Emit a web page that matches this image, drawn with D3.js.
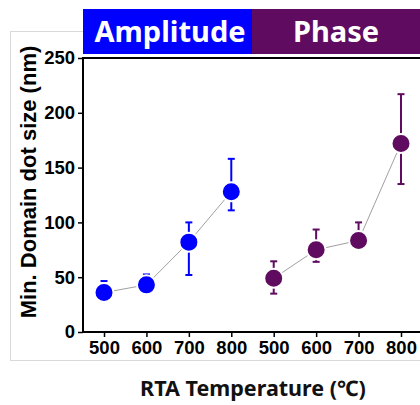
<!DOCTYPE html>
<html><head><meta charset="utf-8">
<script src="https://cdn.jsdelivr.net/npm/d3@7"></script>
<style>body{margin:0;background:#fff}svg{display:block}</style>
</head><body>
<script>
const temps = ["500","600","700","800"];
const groups = ["Amplitude","Phase"];
const ampVal = [36, 43, 82, 128];
const ampHi  = [46.5, 52.5, 100, 158];
const ampLo  = [30, 38, 52, 111];
const phVal  = [49, 75, 83.5, 172];
const phHi   = [64.5, 93.5, 100, 217];
const phLo   = [35, 64, 78, 135];
const yTicks = [0, 50, 100, 150, 200, 250];
const colors = ["#0000FF", "#5E0B60"];

const W = 420, H = 405;
const svg = d3.select("body").append("svg").attr("width", W).attr("height", H);

// light frame
svg.append("rect").attr("x",10.5).attr("y",31.5).attr("width",430).attr("height",329)
  .attr("fill","none").attr("stroke","#d9d9d9").attr("stroke-width",1);

const x0 = 83, yTop = 58, yBot = 332;
const x = d3.scaleLinear().domain([0,7]).range([104, 401]);
const y = d3.scaleLinear().domain([0,250]).range([yBot, yTop]);

svg.append("rect").attr("x",x0).attr("y",yTop).attr("width",W-x0).attr("height",yBot-yTop).attr("fill","#fff");

// header bars
const hdr = [{g:groups[0], x1:83, x2:252, c:colors[0], tx:170},
             {g:groups[1], x1:252, x2:430, c:colors[1], tx:336}];
hdr.forEach(h=>{
  svg.append("rect").attr("x",h.x1).attr("y",9).attr("width",h.x2-h.x1).attr("height",45).attr("fill",h.c);
  svg.append("text").attr("x",h.tx).attr("y",42).attr("text-anchor","middle")
    .attr("fill","#fff").attr("font-family","'Noto Sans', 'Open Sans', sans-serif")
    .attr("font-weight","bold").attr("font-size","29px").text(h.g);
});

// axes
const yAxis = d3.axisLeft(y).tickValues(yTicks).tickSize(5).tickPadding(3);
const gy = svg.append("g").attr("transform",`translate(${x0},0)`).call(yAxis);
const xLabels = temps.concat(temps);
const xAxis = d3.axisBottom(x).tickValues(d3.range(8)).tickFormat(i=>xLabels[i]).tickSize(5).tickPadding(4);
const gx = svg.append("g").attr("transform",`translate(0,${yBot})`).call(xAxis);
[gx, gy].forEach(g=>{
  g.select(".domain").remove();
  g.selectAll("line").attr("stroke","#000").attr("stroke-width",1.5);
  g.selectAll("text").attr("font-family","'Liberation Sans', Arial, sans-serif")
    .attr("font-weight","bold").attr("font-size","18.5px").attr("fill","#000");
});
svg.append("line").attr("x1",x0).attr("x2",x0).attr("y1",yTop).attr("y2",yBot+1).attr("stroke","#000").attr("stroke-width",2);
svg.append("line").attr("x1",x0).attr("x2",W).attr("y1",yBot).attr("y2",yBot).attr("stroke","#000").attr("stroke-width",2);
svg.append("line").attr("x1",x0-1).attr("x2",W).attr("y1",yTop).attr("y2",yTop).attr("stroke","#000").attr("stroke-width",2);

// series
const series = [
  {vals:ampVal, hi:ampHi, lo:ampLo, off:0, c:colors[0]},
  {vals:phVal, hi:phHi, lo:phLo, off:4, c:colors[1]}
];
series.forEach(s=>{
  const pts = s.vals.map((v,i)=>({i:i+s.off, v, hi:s.hi[i], lo:s.lo[i]}));
  svg.append("path").datum(pts)
    .attr("d", d3.line().x(d=>x(d.i)).y(d=>y(d.v)))
    .attr("fill","none").attr("stroke","#a0a0a0").attr("stroke-width",1);
  const g = svg.append("g");
  pts.forEach(d=>{
    g.append("line").attr("x1",x(d.i)).attr("x2",x(d.i)).attr("y1",y(d.hi)).attr("y2",y(d.lo))
      .attr("stroke",s.c).attr("stroke-width",2);
    [d.hi,d.lo].forEach(e=>{
      g.append("line").attr("x1",x(d.i)-3.5).attr("x2",x(d.i)+3.5).attr("y1",y(e)).attr("y2",y(e))
        .attr("stroke",s.c).attr("stroke-width",2);
    });
    g.append("circle").attr("cx",x(d.i)).attr("cy",y(d.v)).attr("r",9.5)
      .attr("fill",s.c).attr("stroke","#fff").attr("stroke-width",2);
  });
});

// axis titles
svg.append("text").attr("transform","translate(36,182) rotate(-90)").attr("text-anchor","middle")
  .attr("font-family","'Liberation Sans', Arial, sans-serif").attr("font-weight","bold")
  .attr("font-size","22px").attr("fill","#000").text("Min. Domain dot size (nm)");
svg.append("text").attr("x",253).attr("y",396).attr("text-anchor","middle")
  .attr("font-family","'Noto Sans', 'Open Sans', sans-serif").attr("font-weight","bold")
  .attr("font-size","21.5px").attr("fill","#111").text("RTA Temperature (℃)");
</script>
</body></html>
